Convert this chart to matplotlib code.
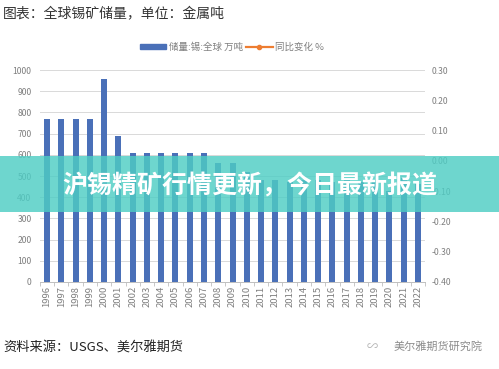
import numpy as np
import matplotlib
matplotlib.use('Agg')
import matplotlib.pyplot as plt
from matplotlib.lines import Line2D
from matplotlib.patches import Patch, Rectangle

plt.rcParams['font.family'] = ['Noto Sans CJK SC', 'DejaVu Sans']

# 储量:锡:全球 万吨
years = [str(y) for y in range(1996, 2023)]
reserves = [770, 770, 770, 770, 960, 690, 610, 610, 610, 610, 610, 610,
            560, 560, 520, 480, 480, 470, 480, 480, 470, 480, 470, 470,
            430, 490, 460]
left_ticks = list(range(0, 1001, 100))
right_ticks = [-0.40, -0.30, -0.20, -0.10, 0.00, 0.10, 0.20, 0.30]

title = '图表：全球锡矿储量，单位：金属吨'
banner = '沪锡精矿行情更新，今日最新报道'
source = '资料来源：USGS、美尔雅期货'
watermark = '美尔雅期货研究院'

bar_color = '#4a70b8'
grey = '#7f7f7f'

fig = plt.figure(figsize=(4.99, 3.69), dpi=100)
ax = fig.add_axes([0.080, 0.236, 0.772, 0.574])
x = np.arange(len(years))
ax.bar(x, reserves, width=0.42, color=bar_color, zorder=3)
ax.set_xlim(-0.5, len(years) - 0.5)
ax.set_ylim(0, 1000)
ax.set_yticks(left_ticks)
ax.set_xticks(x)
ax.set_xticklabels(years, rotation=90)
ax.set_xticks(np.arange(-0.5, len(years), 1), minor=True)
ax.tick_params(axis='x', which='major', length=0, labelsize=6.8, colors=grey, pad=3)
ax.tick_params(axis='x', which='minor', length=3, color='#bfbfbf', width=0.6)
ax.tick_params(axis='y', length=0, labelsize=6.2, colors=grey, pad=6)
ax.grid(axis='y', color='#d9d9d9', linewidth=0.7, zorder=0)
for s in ['top', 'left', 'right']:
    ax.spines[s].set_visible(False)
ax.spines['bottom'].set_color('#bfbfbf')
ax.spines['bottom'].set_linewidth(0.7)

ax2 = ax.twinx()
ax2.set_ylim(-0.40, 0.30)
ax2.set_yticks(right_ticks)
ax2.set_yticklabels(['%.2f' % v for v in right_ticks])
ax2.tick_params(axis='y', length=0, labelsize=6.2, colors=grey, pad=5)
for s in ax2.spines.values():
    s.set_visible(False)

handles = [Patch(color=bar_color, label='储量:锡:全球 万吨'),
           Line2D([0], [0], color='#ed7d31', marker='o', markersize=3,
                  linewidth=1.6, label='同比变化 %')]
fig.legend(handles=handles, loc='center', bbox_to_anchor=(0.465, 0.872), ncol=2,
           frameon=False, fontsize=6.8, labelcolor=grey, handlelength=2.8,
           handleheight=0.5, columnspacing=0.3, handletextpad=0.3)

fig.text(0.006, 0.962, title, fontsize=10, color='#333333', va='center', ha='left')
fig.text(0.006, 0.057, source, fontsize=9.5, color='#222222', va='center', ha='left')
fig.text(0.968, 0.060, watermark, fontsize=8, color='#8c8c8c', va='center', ha='right')
fig.text(0.745, 0.060, '∽', fontsize=8, color='#b0b0b0', va='center', ha='center')

fig.patches.append(Rectangle((0, 1 - 212 / 369), 1, 56 / 369, transform=fig.transFigure,
                             facecolor='#4ecdc4', alpha=0.82, edgecolor='none', zorder=10))
fig.text(0.5, 1 - 186 / 369, banner, fontsize=18, fontweight='bold', color='white',
         va='center', ha='center', zorder=11)

fig.savefig('out.png', dpi=100)
